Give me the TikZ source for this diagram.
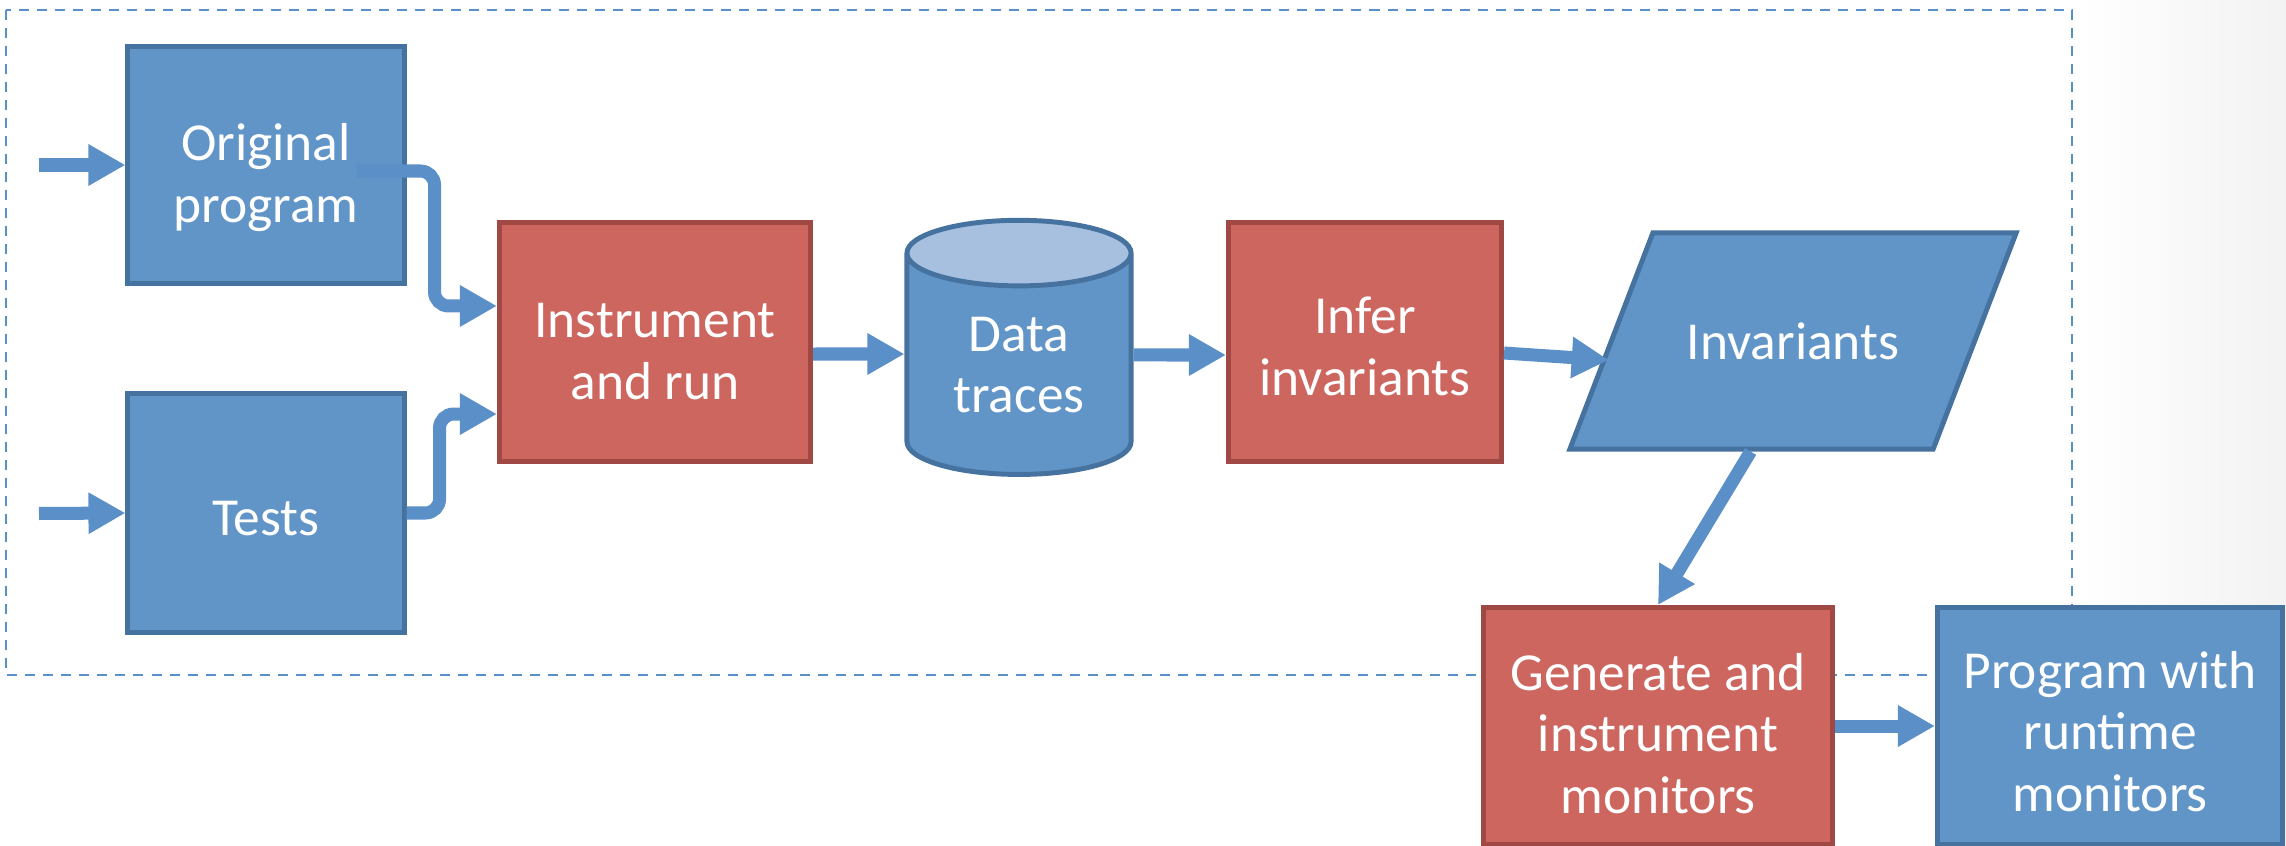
\documentclass[tikz,border=0pt]{standalone}
\usepackage{fontspec}
\setmainfont{Carlito}
\usepackage{tikz}
\usetikzlibrary{arrows.meta,shapes.geometric}

\definecolor{boxblue}{HTML}{6195C8}
\definecolor{lineblue}{HTML}{4672A0}
\definecolor{boxred}{HTML}{CD665F}
\definecolor{linered}{HTML}{A04944}
\definecolor{flowblue}{HTML}{5B8FC8}
\definecolor{toplight}{HTML}{A7C0E0}

\begin{document}
\begin{tikzpicture}[x=0.01cm, y=-0.01cm,
  every node/.style={text=white, align=center, font=\fontsize{15.2}{17.6}\selectfont, line width=1.4pt, inner sep=0pt},
  textdrop/.style={execute at begin node={\rule{0pt}{#1}}},
  bluebox/.style={rectangle, draw=lineblue, fill=boxblue},
  redbox/.style={rectangle, draw=linered, fill=boxred},
  flow/.style={draw=flowblue, line width=3.7pt, -{Triangle[length=0.37cm,width=0.39cm]}},
  groupframe/.style={draw=flowblue, line width=0.6pt, dash pattern=on 0.1cm off 0.08cm}]
  \useasboundingbox (0,0) rectangle (2286,846);
  \shade[left color=white, right color=black!5] (2080,0) rectangle (2286,846);
  \draw[groupframe] (6,10) rectangle (2072,675);

  \node[bluebox, textdrop=1.24cm, minimum width=2.76cm, minimum height=2.36cm] (orig) at (266,165) {Original\\program};
  \node[bluebox, textdrop=0.46cm, minimum width=2.76cm, minimum height=2.39cm] (tests) at (266,513) {Tests};
  \node[redbox, textdrop=1.16cm, minimum width=3.11cm, minimum height=2.39cm] (instr) at (655,342) {Instrument\\and run};
  \node[cylinder, shape border rotate=90, aspect=0.5, draw=lineblue, cylinder uses custom fill,
    cylinder body fill=boxblue, cylinder end fill=toplight,
    minimum width=2.24cm, minimum height=2.54cm] (data) at (1019,365) {Data\\traces};
  \node[redbox, textdrop=1.07cm, minimum width=2.73cm, minimum height=2.38cm] (infer) at (1365,342) {Infer\\invariants};
  \node[trapezium, trapezium left angle=69, trapezium right angle=111, trapezium stretches body,
    draw=lineblue, fill=boxblue, text height=0.37cm, text depth=0cm,
    inner ysep=0.895cm, minimum width=4.46cm] (inv) at (1793,341) {Invariants};
  \node[redbox, textdrop=1.76cm, minimum width=3.49cm, minimum height=2.37cm] (gen) at (1658,726) {Generate and\\instrument\\monitors};
  \node[bluebox, textdrop=1.72cm, minimum width=3.45cm, minimum height=2.37cm] (prog) at (2110,726) {Program with\\runtime\\monitors};

  \coordinate (src1) at (39,165);
  \coordinate (src2) at (39,513.5);

  \draw[flow] (src1) -- (orig.west);
  \draw[flow] (src2) -- (tests.west);
  \draw[flow, rounded corners=4pt] ([shift={(-50,6)}]orig.east) -- ++(78,0) |- ([yshift=0.36cm]instr.west);
  \draw[flow, rounded corners=4pt] (tests.east) -- ++(33,0) |- ([yshift=-0.72cm]instr.west);
  \draw[flow] ([yshift=-0.12cm]instr.east) -- ([yshift=0.11cm]data.west);
  \draw[flow] ([yshift=0.10cm]data.east) -- ([yshift=-0.13cm]infer.west);
  \draw[flow] ([yshift=-0.11cm]infer.east) -- ([yshift=-0.19cm]inv.west);
  \draw[flow] (inv.bottom side) -- (gen.north);
  \draw[flow] (gen.east) -- (prog.west);
\end{tikzpicture}
\end{document}
